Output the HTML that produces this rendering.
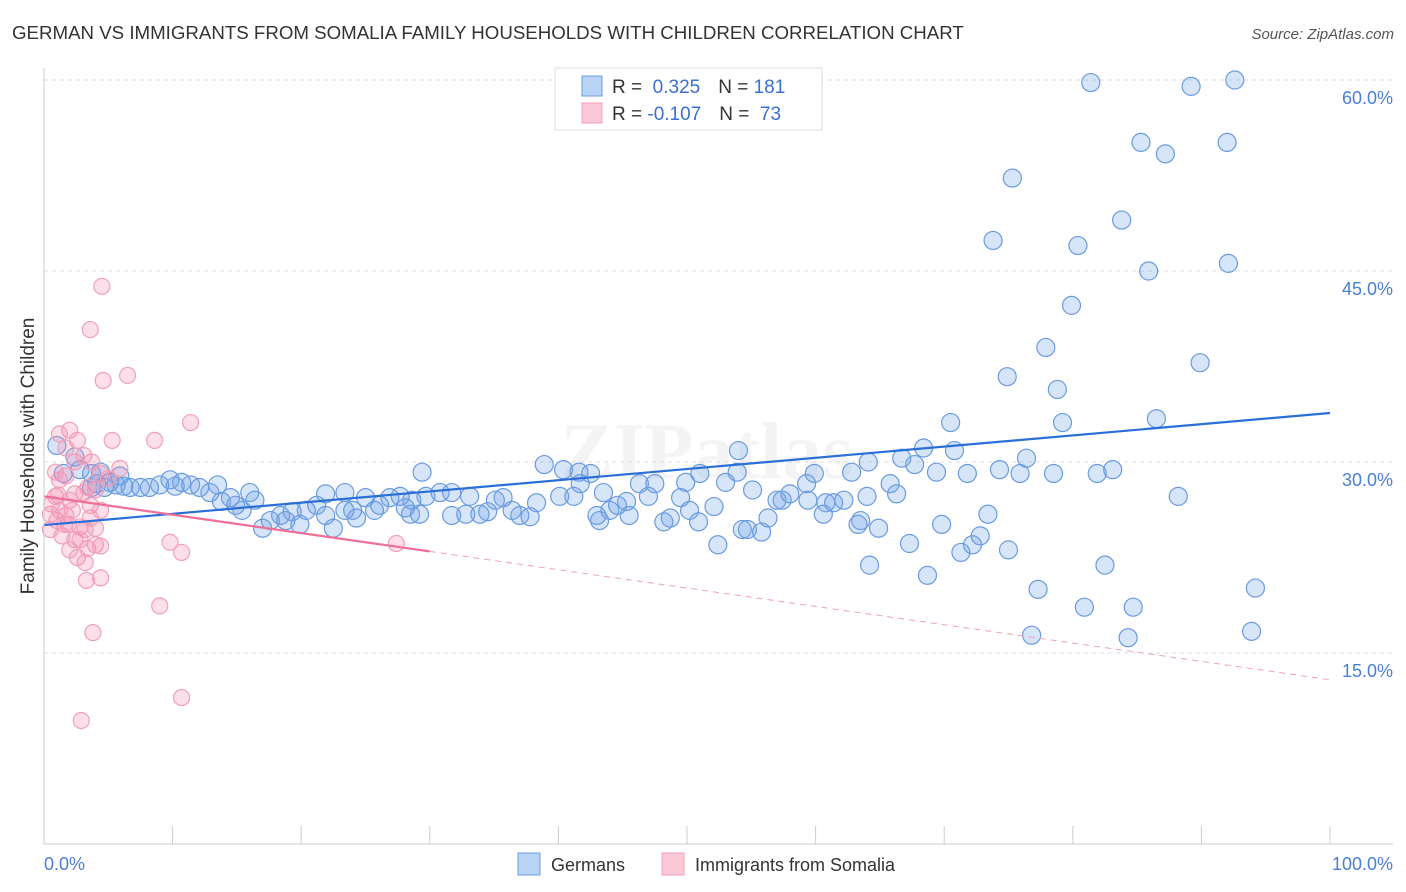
<!DOCTYPE html>
<html><head><meta charset="utf-8">
<style>
body{margin:0;background:#fff;font-family:"Liberation Sans",sans-serif;}
svg{display:block}
</style></head>
<body>
<svg id="chart" width="1406" height="892" viewBox="0 0 1406 892" xmlns="http://www.w3.org/2000/svg">
<text x="12" y="39" font-size="18.7" fill="#333">GERMAN VS IMMIGRANTS FROM SOMALIA FAMILY HOUSEHOLDS WITH CHILDREN CORRELATION CHART</text>
<text x="1394" y="39" font-size="15" fill="#555" font-style="italic" text-anchor="end">Source: ZipAtlas.com</text>
<text x="560" y="478" font-size="80" fill="#000" opacity="0.04" font-weight="bold" font-family="Liberation Serif, serif">ZIPatlas</text>
<text transform="translate(34,456) rotate(-90)" font-size="19" fill="#333" text-anchor="middle">Family Households with Children</text>
<g id="grid"></g>
<g id="pts"></g>
<g id="trend"></g>
<line x1="44" y1="68" x2="44" y2="844" stroke="#ccc"/>
<line x1="44" y1="844" x2="1393" y2="844" stroke="#ccc"/>
<text x="44" y="870" font-size="18" fill="#4a7fd4">0.0%</text>
<text x="1393" y="870" font-size="18" fill="#4a7fd4" text-anchor="end">100.0%</text>
<g>
<rect x="555" y="68" width="267" height="62" fill="#fff" stroke="#ddd"/>
<rect x="582" y="76" width="20" height="20" fill="#b9d3f5" stroke="#6a9be0"/>
<rect x="582" y="103" width="20" height="20" fill="#fbc8d8" stroke="#f0a0b8"/>
<text x="612" y="93" font-size="19" fill="#333">R = <tspan fill="#3a70d0">&#160;0.325</tspan><tspan dx="18">N = </tspan><tspan fill="#3a70d0">181</tspan></text>
<text x="612" y="120" font-size="19" fill="#333">R = <tspan fill="#3a70d0">-0.107</tspan><tspan dx="18">N = </tspan><tspan fill="#3a70d0">&#160;73</tspan></text>
</g>
<g>
<rect x="518" y="853" width="22" height="22" fill="#b9d3f5" stroke="#6a9be0"/>
<text x="551" y="871" font-size="18" fill="#333">Germans</text>
<rect x="662" y="853" width="22" height="22" fill="#fbc8d8" stroke="#f0a0b8"/>
<text x="695" y="871" font-size="18" fill="#333">Immigrants from Somalia</text>
</g>
</svg>
<script>
const yTicks=[15,30,45,60];
const yTickLabels=["15.0%","30.0%","45.0%","60.0%"];
const xTicks=[10,20,30,40,50,60,70,80,90,100];
const germansX=[81.4,89.2,92.6,85.3,87.2,92.0,75.3,73.8,80.4,83.8,85.9,92.1,79.9,77.9,74.9,78.8,89.9,70.5,79.2,86.5,68.4,70.8,66.7,67.7,64.1,62.8,69.4,71.8,74.3,75.9,78.5,81.9,83.1,76.4,53.9,54.0,51.0,46.3,47.5,49.9,41.6,40.4,38.9,29.4,41.7,65.8,59.3,59.9,57.0,58.0,59.4,60.8,62.2,64.0,66.3,60.6,61.4,63.5,64.9,63.3,67.3,69.8,71.3,72.2,72.8,73.4,75.0,64.2,68.7,77.3,76.8,80.9,82.5,84.7,84.3,88.2,94.2,93.9,53.0,52.1,50.2,49.5,47.0,45.3,44.0,43.0,43.2,45.5,48.2,48.7,50.9,52.4,54.3,54.7,55.8,56.3,57.4,55.1,40.1,38.3,37.0,37.8,36.4,35.7,35.1,34.5,33.1,31.7,30.8,29.7,28.6,28.5,28.1,26.1,25.7,26.9,27.7,25.0,24.3,24.0,23.4,22.5,21.2,20.4,19.3,18.4,17.6,17.0,18.8,19.9,21.9,23.4,21.9,16.0,16.4,15.4,14.5,13.8,14.9,13.5,12.9,12.1,11.4,10.7,10.2,9.8,9.0,8.2,7.5,6.7,6.2,5.6,5.1,4.7,4.1,3.7,2.8,5.9,4.4,1.0,2.4,1.5,3.7,42.5,43.5,44.6,41.2,31.7,32.8,29.2,33.9];
const germansY=[59.8,59.5,60.0,55.1,54.2,55.1,52.3,47.4,47.0,49.0,45.0,45.6,42.3,39.0,36.7,35.7,37.8,33.1,33.1,33.4,31.1,30.9,30.3,29.8,30.0,29.2,29.2,29.1,29.4,29.1,29.1,29.1,29.4,30.3,29.2,30.9,29.1,28.3,28.3,28.4,29.2,29.4,29.8,29.2,28.3,28.3,28.3,29.1,27.0,27.5,27.0,26.8,27.0,27.3,27.5,25.9,26.8,25.4,24.8,25.1,23.6,25.1,22.9,23.5,24.2,25.9,23.1,21.9,21.1,20.0,16.4,18.6,21.9,18.6,16.2,27.3,20.1,16.7,28.4,26.5,26.2,27.2,27.3,26.9,26.2,25.8,25.4,25.8,25.3,25.6,25.3,23.5,24.7,24.7,24.5,25.6,27.0,27.8,27.3,26.8,25.8,25.7,26.2,27.2,27.0,26.1,27.3,27.6,27.6,27.3,27.0,25.9,26.4,26.6,26.2,27.2,27.3,27.2,25.6,26.2,26.2,24.8,26.6,26.2,26.1,25.8,25.4,24.8,25.4,25.1,27.5,27.6,25.8,27.6,27.0,26.2,27.2,26.9,26.6,28.2,27.6,28.0,28.2,28.4,28.1,28.6,28.2,28.0,28.0,28.0,28.1,28.2,28.4,28.0,28.3,28.0,29.4,28.9,29.2,31.3,30.4,29.1,29.1,29.1,27.6,26.6,27.3,25.8,25.9,25.9,25.9];
const somaliaX=[4.5,3.6,4.6,6.5,11.4,8.6,5.3,2.0,2.6,1.2,1.7,2.4,3.1,3.7,5.9,4.4,4.0,3.4,2.4,1.7,1.2,0.9,0.6,0.5,1.0,1.9,2.8,3.6,3.2,2.4,1.4,4.0,3.4,4.4,2.6,3.2,3.3,4.4,3.8,0.9,1.1,0.5,2.0,9.8,10.7,9.0,10.7,2.9,27.4,1.7,2.2,3.6,4.4,1.2,1.6,5.0,3.1,4.0,2.8,2.0];
const somaliaY=[43.8,40.4,36.4,36.8,33.1,31.7,31.7,32.5,31.7,32.2,31.1,30.0,30.5,30.0,29.5,29.1,27.8,28.0,27.5,28.9,28.6,27.3,26.7,25.9,25.4,25.1,24.9,25.6,24.7,23.9,24.2,23.5,23.2,23.4,22.5,22.1,20.7,20.9,16.6,29.2,27.4,24.7,27.0,23.7,22.9,18.7,11.5,9.7,23.6,25.8,26.2,26.6,26.2,26.2,25.1,28.7,27.6,24.8,23.9,23.1];
const germanTrend=[25.05,33.85];
const somaliaTrend=[27.3,12.9];
const somaliaSolidEnd=30;

const NS="http://www.w3.org/2000/svg";
function xs(v){return 44+v*12.86;}
function ys(v){return 844-v*12.733;}
function mk(t,a){const e=document.createElementNS(NS,t);for(const k in a)e.setAttribute(k,a[k]);return e;}
const grid=document.getElementById('grid');
yTicks.forEach((t,i)=>{
  const l=mk('line',{x1:44,x2:1393,y1:ys(t),y2:ys(t),stroke:'#ddd','stroke-dasharray':'4,4'});
  
  
  grid.appendChild(l);
  const tx=mk('text',{x:1393,y:ys(t)+24,'font-size':18,fill:'#4a7fd4','text-anchor':'end'});
  
  
  tx.textContent=yTickLabels[i];grid.appendChild(tx);
});
xTicks.forEach(t=>{
  const l=mk('line',{x1:xs(t),x2:xs(t),y1:826,y2:844,stroke:'#ccc'});
  
  
  grid.appendChild(l);
});
const pts=document.getElementById('pts');
germansX.forEach((x,i)=>{
  const c=mk('circle',{cx:xs(x),cy:ys(germansY[i]),r:9,fill:'rgba(110,160,230,0.28)',stroke:'#6a9be0','stroke-width':1.2});
  
  
  pts.appendChild(c);
});
somaliaX.forEach((x,i)=>{
  const c=mk('circle',{cx:xs(x),cy:ys(somaliaY[i]),r:8,fill:'rgba(245,140,175,0.28)',stroke:'#f0a0b8','stroke-width':1.2});
  
  
  pts.appendChild(c);
});
const tr=document.getElementById('trend');
const g1=mk('line',{x1:xs(0),y1:ys(germanTrend[0]),x2:xs(100),y2:ys(germanTrend[1]),stroke:'#2a6fd8','stroke-width':2.2});


tr.appendChild(g1);
const sm=somaliaTrend[0]+(somaliaTrend[1]-somaliaTrend[0])*somaliaSolidEnd/100;
const s1=mk('line',{x1:xs(0),y1:ys(somaliaTrend[0]),x2:xs(somaliaSolidEnd),y2:ys(sm),stroke:'#ee6f98','stroke-width':2.2});


tr.appendChild(s1);
const s2=mk('line',{x1:xs(somaliaSolidEnd),y1:ys(sm),x2:xs(100),y2:ys(somaliaTrend[1]),stroke:'#f0a0b8','stroke-width':1,'stroke-dasharray':'6,5'});


tr.appendChild(s2);
</script>
</body></html>
